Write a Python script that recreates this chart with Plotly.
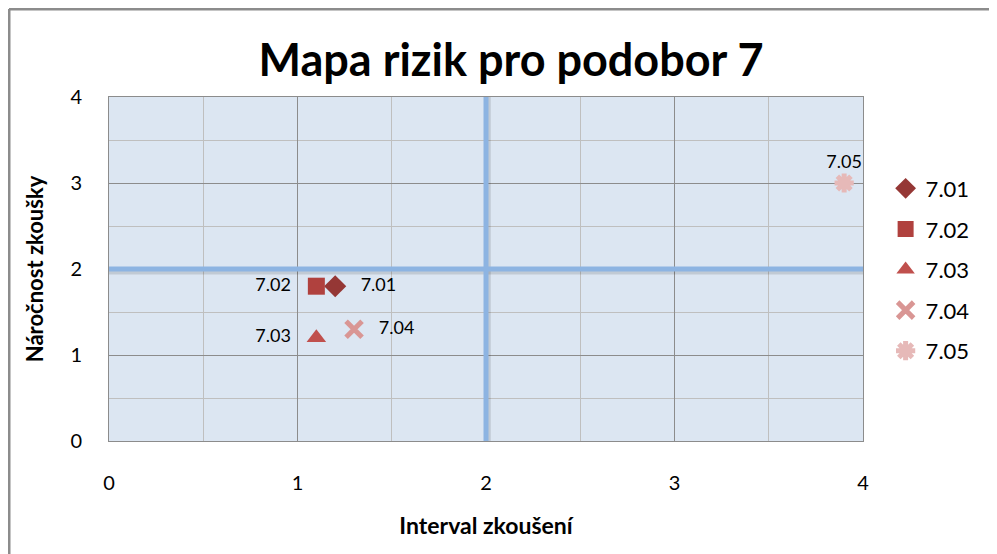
import plotly.graph_objects as go

names = ["7.01", "7.02", "7.03", "7.04", "7.05"]
x_vals = [1.2, 1.1, 1.1, 1.3, 3.9]
y_vals = [1.8, 1.8, 1.2, 1.3, 3.0]
symbols = ["diamond", "square", "triangle-up", "x-thin", "asterisk"]
colors = ["#953735", "#B0413E", "#C0504D", "#D99694", "#E6B9B8"]
label_pos = ["middle right", "middle left", "middle left", "middle right", "top center"]
tick_vals = [0, 1, 2, 3, 4]
threshold_x = 2
threshold_y = 2

FONT = "Lato, 'Open Sans', sans-serif"

fig = go.Figure()
for n, xv, yv, s, c, p in zip(names, x_vals, y_vals, symbols, colors, label_pos):
    thin = s in ("x-thin", "asterisk")
    marker = dict(symbol=s, color=c, size=17 if not thin else 16,
                  line=dict(color=c, width=5 if thin else 0))
    fig.add_trace(go.Scatter(
        x=[xv], y=[yv], mode="markers+text", name=n, legendgroup=n,
        text=["   " + n + "   "] if p != "top center" else [n],
        textposition=p, textfont=dict(size=18, color="#000000", family=FONT),
        marker=marker,
    ))

shapes = []
shapes.append(dict(type="line", xref="x", yref="y", x0=0, x1=4, y0=threshold_y - 0.035, y1=threshold_y - 0.035,
                   line=dict(color="rgba(0,0,0,0.12)", width=5), layer="above"))
shapes.append(dict(type="line", xref="x", yref="y", x0=threshold_x + 0.012, x1=threshold_x + 0.012, y0=0, y1=4,
                   line=dict(color="rgba(0,0,0,0.12)", width=5), layer="above"))
shapes.append(dict(type="line", xref="x", yref="y", x0=0, x1=4, y0=threshold_y, y1=threshold_y,
                   line=dict(color="#8DB4E2", width=5), layer="above"))
shapes.append(dict(type="line", xref="x", yref="y", x0=threshold_x, x1=threshold_x, y0=0, y1=4,
                   line=dict(color="#8DB4E2", width=5), layer="above"))
# outer chart border (top and left)
L = (1 - 101) / 754
T = (433 - 1) / 344
shapes.append(dict(type="line", xref="paper", yref="paper", x0=L, x1=1.3, y0=T, y1=T,
                   line=dict(color="#8C8C8C", width=3)))
shapes.append(dict(type="line", xref="paper", yref="paper", x0=L, x1=L, y0=T, y1=-0.4,
                   line=dict(color="#8C8C8C", width=3)))

axis_common = dict(
    range=[0, 4], tickvals=tick_vals, showgrid=True, gridcolor="#8C8C8C", gridwidth=1,
    minor=dict(dtick=0.5, showgrid=True, gridcolor="#BFBFBF", gridwidth=1),
    zeroline=False, showline=True, linecolor="#8C8C8C", linewidth=1, mirror=True,
    tickfont=dict(size=20, color="#000000", family=FONT), fixedrange=True,
)

fig.update_layout(
    width=989, height=546,
    margin=dict(l=101, r=134, t=89, b=113),
    paper_bgcolor="white", plot_bgcolor="#DCE6F2",
    title=dict(text="<b>Mapa rizik pro podobor 7</b>", x=503 / 989, xanchor="center",
               y=1 - 52 / 546, yanchor="middle",
               font=dict(size=45, color="#000000", family=FONT)),
    xaxis=dict(**axis_common, ticklabelstandoff=24,
               title=dict(text="<b>Interval zkoušení</b>", standoff=24,
                          font=dict(size=23, color="#000000", family=FONT))),
    yaxis=dict(**axis_common, ticklabelstandoff=22,
               title=dict(text="<b>Náročnost zkoušky</b>", standoff=20,
                          font=dict(size=22, color="#000000", family=FONT))),
    legend=dict(x=1.03, y=0.795, xanchor="left", yanchor="top",
                font=dict(size=22, color="#000000", family=FONT),
                itemsizing="trace", tracegroupgap=9, bgcolor="rgba(0,0,0,0)"),
    shapes=shapes,
    showlegend=True,
)

fig.write_html("out.html")
